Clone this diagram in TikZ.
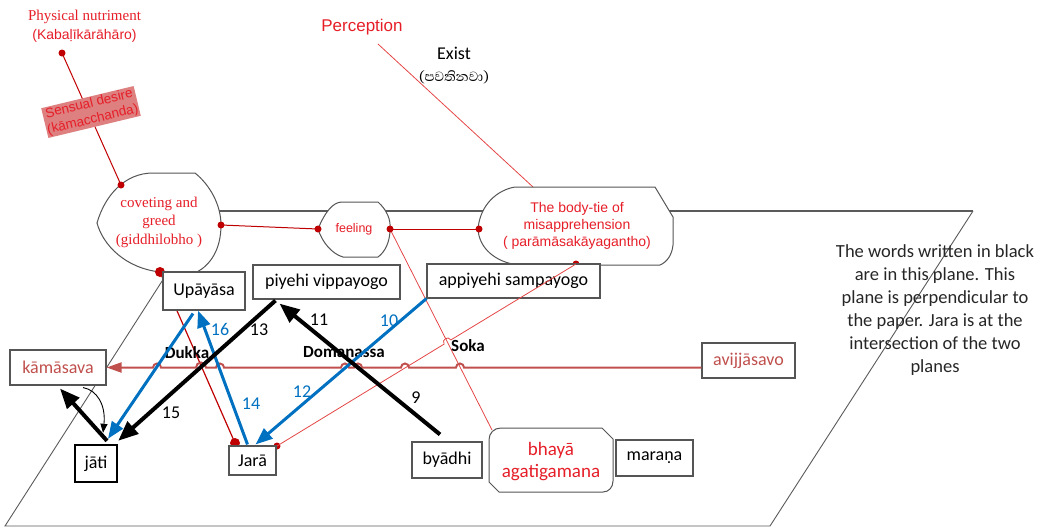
\documentclass[tikz,border=0pt]{standalone}
\usepackage{fontspec}
\setmainfont{Carlito}
\newfontfamily\arialf{Liberation Sans}
\newfontfamily\timesf{Liberation Serif}
\newfontfamily\sinhalaf[Script=Sinhala]{Abhaya Libre}
\usetikzlibrary{arrows.meta,calc}
\definecolor{redtxt}{RGB}{230,30,40}
\definecolor{dotred}{RGB}{192,0,0}
\definecolor{thinred}{RGB}{228,70,70}
\definecolor{brickred}{RGB}{192,80,77}
\definecolor{arrowblue}{RGB}{0,112,192}
\definecolor{boxgray}{RGB}{85,85,85}
\definecolor{planegray}{RGB}{90,90,90}
\definecolor{sensualfill}{RGB}{222,128,128}
\begin{document}
\begin{tikzpicture}[x=1pt,y=-1pt,
  box/.style={draw=boxgray,line width=1.1pt,fill=white,inner sep=0pt,
              font=\fontsize{18}{22}\selectfont},
  outline/.style={draw=boxgray,line width=1pt,fill=white},
  dot/.style={fill=dotred,draw=none},
  redline/.style={draw=dotred,line width=1pt},
  pinkline/.style={draw=thinred,line width=0.8pt},
  hline/.style={draw=brickred,line width=2pt,-{Triangle[length=15pt,width=10pt]}},
  bluearrow/.style={draw=arrowblue,line width=3pt,-{Triangle[length=17pt,width=13pt]}},
  blackarrow/.style={draw=black,line width=4pt,-{Triangle[length=20pt,width=16pt]}},
  thinarrow/.style={draw=black,line width=0.9pt,-{Triangle[length=9pt,width=7pt]}},
  num/.style={font=\fontsize{18}{20}\selectfont},
  bnum/.style={num,text=arrowblue},
  boldlab/.style={font=\fontsize{17}{20}\selectfont\bfseries},
  redserif/.style={text=redtxt,font=\timesf\fontsize{15}{18.5}\selectfont,align=center},
  redsans/.style={text=redtxt,font=\arialf\fontsize{14}{17}\selectfont,align=center},
]
\useasboundingbox (0,0) rectangle (1044,528);

% the plane of the black words
\coordinate (pTL) at (207,211);
\coordinate (pTR) at (973,211);
\coordinate (pBR) at (770,526);
\coordinate (pBL) at (5,526);
\draw[draw=planegray,line width=0.9pt] (pTR) -- (pBR) -- (pBL) -- (pTL);
\draw[draw=planegray,line width=1.6pt] (pTL) -- (pTR);

% attachment points on the upper shapes
\coordinate (physDot) at (62,53);
\coordinate (covTop) at (121,185);
\coordinate (covRight) at (221,225);
\coordinate (covBottom) at (160,272);
\coordinate (feelLeft) at (318,229);
\coordinate (feelRight) at (390,229);
\coordinate (bodyLeft) at (479,229);
\coordinate (bodyTop) at (533,187);
\coordinate (bodyBottom) at (576,264);
\coordinate (percFoot) at (378,44);
\coordinate (jaraLeft) at (235,443);
\coordinate (jaraRight) at (277,446);
\coordinate (bhayaCorner) at (492,430);

% red links behind the shapes and boxes
\draw[pinkline] (percFoot) -- (bodyTop);
\draw[redline] (physDot) -- (covTop);
\draw[redline] (covRight) -- (feelLeft);
\draw[redline] (feelRight) -- (bodyLeft);
\draw[pinkline] (feelRight) -- (bhayaCorner);
\draw[redline,line width=1.2pt] (covBottom) -- (jaraLeft);

% coveting and greed
\draw[outline] (97,223) .. controls (105,195) and (125,173) .. (153,173) -- (195,173)
  .. controls (210,185) and (221,205) .. (221,225) .. controls (221,250) and (210,265) .. (197,272)
  -- (160,272) .. controls (125,268) and (103,245) .. (97,223) -- cycle;
\node[redserif] (cov) at (159,222) {coveting and\\greed\\(giddhilobho )};

% feeling
\draw[outline] (318,229) .. controls (325,212) and (333,202) .. (342,202) -- (378,202)
  .. controls (387,210) and (391,220) .. (390,229) .. controls (390,242) and (385,252) .. (378,257)
  -- (343,257) .. controls (332,254) and (322,242) .. (318,229) -- cycle;
\node[text=redtxt,font=\arialf\fontsize{12.5}{15}\selectfont] (feel) at (354,229) {feeling};

% the body-tie of misapprehension
\draw[outline] (478,229) .. controls (480,205) and (497,190) .. (515,187) -- (655,187)
  -- (673,217) -- (673,245) .. controls (672,255) and (667,262) .. (660,265)
  -- (518,265) .. controls (495,262) and (479,248) .. (478,229) -- cycle;
\node[text=redtxt,font=\arialf\fontsize{14}{17}\selectfont,align=center] (body) at (577,226)
  {The body-tie of\\misapprehension\\( parāmāsakāyagantho)};

% top texts
\node[redserif] (phys) at (84.5,17) {Physical nutriment};
\node[redsans] (kaba) at (84.5,36) {(Kabaḷīkārāhāro)};
\node[text=redtxt,font=\arialf\fontsize{17}{20}\selectfont] (perc) at (362,27) {Perception};
\node[font=\fontsize{18}{20}\selectfont] (exist) at (454,53) {Exist};
\node[font=\sinhalaf\fontsize{17}{20}\selectfont] (pavati) at (454,77) {(පවතිනවා)};

% sensual desire label on its link
\node[fill=sensualfill,text=redtxt,font=\arialf\fontsize{13.5}{16}\selectfont,align=center,
      inner sep=1pt,rotate=13.5] (sens) at (91,112) {Sensual desire\\(kāmacchanda)};

% dots
\foreach \p in {physDot,covTop,covRight,feelLeft,feelRight,bodyLeft,bodyBottom,jaraRight}
  \fill[dot] (\p) circle[radius=3.5];
\fill[dot] (covBottom) circle[radius=5];
\fill[dot] (jaraLeft) circle[radius=5];

% boxes
\node[box,minimum width=82,minimum height=38] (upa) at (204,291) {Upāyāsa};
\node[box,minimum width=147,minimum height=34] (piy) at (326.5,282) {piyehi vippayogo};
\node[box,minimum width=173,minimum height=34] (app) at (513.5,281) {appiyehi sampayogo};
\node[box,minimum width=96,minimum height=35,text=brickred] (kam) at (58,367.5) {kāmāsava};
\node[box,minimum width=93,minimum height=35,text=brickred] (avi) at (748.5,360.5) {avijjāsavo};
\node[box,draw=black,line width=2.4pt,minimum width=42,minimum height=37] (jati) at (96,463.5) {jāti};
\node[box,minimum width=47,minimum height=29] (jara) at (252.5,460.5) {Jarā};
\node[box,minimum width=70,minimum height=36] (bya) at (447,460) {byādhi};
\node[box,minimum width=77,minimum height=36] (mar) at (654.5,458) {maraṇa};

% bhaya agatigamana
\draw[outline] (489,440) .. controls (489,433) and (494,428) .. (501,428) -- (602,428)
  -- (613,439) -- (613,481) .. controls (613,487) and (609,492) .. (603,492)
  -- (499,492) -- (489,482) -- cycle;
\node[text=redtxt,font=\fontsize{19}{22}\selectfont,align=center] (bha) at (551,462)
  {bhayā\\agatigamana};

% link over the appiyehi box, hopping over the feeling link
\draw[pinkline] (bodyBottom) -- (450.9,339.9) .. controls (448.1,335.4) and (441.3,339.6) .. (444.1,344.1)
  -- (jaraRight);

% note at the right
\node[font=\fontsize{18.5}{23}\selectfont,align=center,text=black!85] (note) at (935,310.5)
  {The words written in black\\are in this plane. This\\plane is perpendicular to\\the paper. Jara is at the\\intersection of the two\\planes};

% bold labels
\node[boldlab] (dukka) at (187,353) {Dukka};
\node[boldlab] (doma) at (344,352) {Domanassa};
\node[boldlab] (soka) at (468,346) {Soka};

% avijjasavo to kamasava, with hops
\draw[hline] (avi.west |- kam.east) -- (464,367.5) arc[start angle=0,end angle=-180,radius=4]
  -- (409,367.5) arc[start angle=0,end angle=-180,radius=4]
  -- (362,367.5) arc[start angle=0,end angle=-180,radius=4]
  -- (349,367.5) arc[start angle=0,end angle=-180,radius=4]
  -- (224,367.5) arc[start angle=0,end angle=-180,radius=4]
  -- (206,367.5) arc[start angle=0,end angle=-180,radius=5]
  -- (161,367.5) arc[start angle=0,end angle=-180,radius=4]
  -- (kam.east);

% blue arrows
\draw[bluearrow] ($(upa.south)+(-11,3)$) -- ($(jati.north)+(12,-5)$);
\draw[bluearrow] ($(jara.north)+(-5,-1)$) -- ($(upa.south)+(-6,0)$);
\draw[bluearrow] (app.south west) -- ($(jara.north)+(3,-1)$);

% black arrows
\draw[blackarrow] ($(bya.north)+(-7,-7)$) -- ($(piy.south west)+(27,4)$);
\draw[blackarrow] ($(piy.south west)+(23,1)$) -- ($(jati.north east)+(0,-3)$);
\draw[blackarrow] ($(jati.north)+(11,-3)$) -- ($(kam.south)+(2,3)$);
\draw[thinarrow] ($(kam.south)+(25,2)$) .. controls (97,390) and (106,405) .. ($(jati.north)+(7,-11)$);

% step numbers
\node[bnum] (n16) at (220,329) {16};
\node[bnum] (n14) at (251,404) {14};
\node[bnum] (n10) at (389,321) {10};
\node[bnum] (n12) at (302,392) {12};
\node[num] (n13) at (259,330) {13};
\node[num] (n15) at (171,413) {15};
\node[num] (n11) at (319,320) {11};
\node[num] (n9) at (416,398) {9};
\end{tikzpicture}
\end{document}
